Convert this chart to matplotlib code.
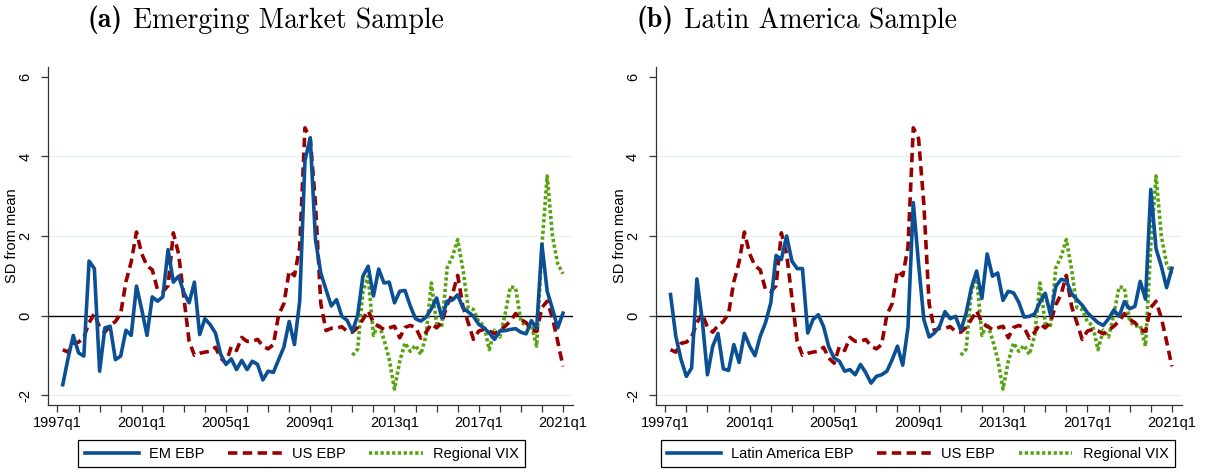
import numpy as np
import matplotlib
matplotlib.use('Agg')
import matplotlib.pyplot as plt

plt.rcParams['font.family'] = ['Liberation Sans', 'DejaVu Sans']

# quarterly series, 1997q2 .. 2021q1 (standardised, SD from mean)
em_ebp = [-1.74, -1.08, -0.50, -0.94, -1.02, 1.37, 1.18, -1.40, -0.31, -0.27,
          -1.11, -1.02, -0.37, -0.50, 0.74, 0.15, -0.50, 0.47, 0.36, 0.47,
          1.66, 0.84, 0.99, 0.57, 0.32, 0.84, -0.48, -0.08, -0.23, -0.44,
          -0.98, -1.23, -1.09, -1.36, -1.13, -1.36, -1.15, -1.23, -1.62, -1.40,
          -1.43, -1.11, -0.79, -0.15, -0.73, 0.36, 3.90, 4.47, 1.90, 1.07,
          0.65, 0.24, 0.40, -0.02, -0.12, -0.40, 0.00, 0.99, 1.24, 0.49,
          1.17, 0.82, 0.84, 0.32, 0.61, 0.63, 0.24, -0.08, -0.14, -0.04,
          0.17, 0.44, -0.06, 0.36, 0.39, 0.52, 0.19, 0.09, -0.02, -0.22,
          -0.31, -0.44, -0.60, -0.39, -0.38, -0.35, -0.33, -0.42, -0.46, -0.13,
          -0.33, 1.79, 0.61, 0.17, -0.31, 0.06]
la_ebp = [0.53, -0.52, -1.11, -1.53, -1.32, 0.92, -0.10, -1.49, -0.77, -0.45,
          -1.34, -1.38, -0.73, -1.18, -0.45, -0.77, -1.01, -0.52, -0.18, 0.32,
          1.51, 1.41, 2.00, 1.37, 1.18, 1.18, -0.44, -0.10, 0.02, -0.28,
          -0.79, -1.07, -1.15, -1.40, -1.36, -1.49, -1.23, -1.44, -1.70, -1.53,
          -1.49, -1.40, -1.11, -0.77, -1.25, -0.29, 2.84, 1.30, -0.10, -0.54,
          -0.44, -0.27, 0.10, -0.08, -0.02, -0.37, 0.05, 0.70, 1.12, 0.43,
          1.55, 0.99, 1.07, 0.38, 0.61, 0.57, 0.33, -0.04, -0.02, 0.04,
          0.34, 0.56, 0.02, 0.73, 0.91, 0.88, 0.55, 0.40, 0.26, 0.07,
          -0.06, -0.18, -0.25, -0.08, 0.14, -0.02, 0.35, 0.17, 0.23, 0.86,
          0.41, 3.17, 1.68, 1.24, 0.70, 1.19]
us_ebp = [-0.86, -0.92, -0.70, -0.67, -0.55, -0.18, 0.05, -0.30, -0.42, -0.25,
          -0.15, 0.05, 0.85, 1.35, 2.10, 1.55, 1.25, 1.15, 0.65, 0.60,
          0.75, 2.08, 1.55, 0.45, -0.65, -1.00, -0.95, -0.92, -0.90, -0.80,
          -1.07, -1.20, -0.78, -0.88, -0.55, -0.65, -0.65, -0.60, -0.77, -0.84,
          -0.73, 0.02, 0.30, 1.12, 1.00, 1.72, 4.72, 4.45, 2.80, 0.30,
          -0.38, -0.32, -0.32, -0.28, -0.40, -0.42, -0.30, -0.10, 0.12, -0.18,
          -0.27, -0.35, -0.31, -0.27, -0.56, -0.30, -0.25, -0.30, -0.57, -0.42,
          -0.21, -0.31, -0.17, 0.27, 0.53, 1.01, 0.23, -0.18, -0.60, -0.39,
          -0.35, -0.39, -0.46, -0.37, -0.27, -0.14, 0.05, -0.10, -0.18, -0.35,
          -0.40, 0.20, 0.36, -0.06, -0.65, -1.28]
# regional VIX only from 2011q1
vix = [-1.00, -0.85, 0.60, 0.99, -0.50, -0.20, -0.60, -1.10, -1.85, -1.15,
       -0.69, -0.90, -0.75, -0.98, -0.50, 0.82, -0.20, -0.25, 1.20, 1.48,
       1.91, 1.16, 0.20, 0.15, -0.16, -0.25, -0.86, -0.37, -0.54, 0.03,
       0.72, 0.70, -0.14, -0.27, -0.25, -0.77, 1.75, 3.51, 2.00, 1.30, 1.05]

START_YEAR = 1997
ebp_start = (1997, 2)
vix_start = (2011, 1)
tick_labels = ['1997q1', '2001q1', '2005q1', '2009q1', '2013q1', '2017q1', '2021q1']

BLUE = '#0b4f95'
RED = '#980000'
GREEN = '#58a310'
GRID = '#e9f0f1'


def qidx(year, q):
    return (year - START_YEAR) * 4 + (q - 1)


def qaxis(start, n):
    s = qidx(*start)
    return np.arange(s, s + n)


def drawPanel(fig, rect, ebp, ebpLabel, tag, title, titleX, legX):
    ax = fig.add_axes(rect)
    for g in (-2, 2, 4):
        ax.axhline(g, color=GRID, lw=1.0, zorder=0)
    ax.axhline(0, color='black', lw=1.0, zorder=1)

    ax.plot(qaxis(ebp_start, len(ebp)), ebp, color=BLUE, lw=2.6,
            solid_joinstyle='round', label=ebpLabel, zorder=4)
    ax.plot(qaxis(ebp_start, len(us_ebp)), us_ebp, color=RED, lw=2.6,
            dashes=(2.6, 1.5), label='US EBP', zorder=3)
    ax.plot(qaxis(vix_start, len(vix)), vix, color=GREEN, lw=2.6,
            dashes=(0.9, 0.7), label='Regional VIX', zorder=2)

    ax.set_xlim(-1.75, 97.85)
    ax.set_ylim(-2.25, 6.25)
    pos = [qidx(int(t[:4]), int(t[-1])) for t in tick_labels]
    ax.set_xticks(pos)
    ax.set_xticklabels(tick_labels, fontsize=10.5)
    ax.set_xticks(np.arange(0, 97, 4), minor=True)
    ax.set_yticks([-2, 0, 2, 4, 6])
    ax.set_yticklabels(['-2', '0', '2', '4', '6'], fontsize=10.5, rotation=90,
                       va='center')
    ax.tick_params(axis='both', which='both', length=5, width=0.9, color='#333333')
    ax.tick_params(axis='x', pad=3)
    ax.tick_params(axis='y', pad=6.5)
    for s in ('top', 'right'):
        ax.spines[s].set_visible(False)
    for s in ('left', 'bottom'):
        ax.spines[s].set_linewidth(0.9)
        ax.spines[s].set_color('#333333')
    ax.set_ylabel('SD from mean', fontsize=10.5)
    ax.yaxis.set_label_coords(-0.056, 0.5)

    # caption: bold tag followed by the roman title on the same baseline
    tagText = fig.text(titleX, 0.942, tag, ha='left', va='baseline',
                       fontsize=20, family='cmb10')
    ax.annotate(title, xy=(1, 0), xycoords=tagText, xytext=(7.5, 0),
                textcoords='offset points', ha='left', va='bottom',
                fontsize=20, family='cmr10', annotation_clip=False)

    ax.legend(loc='center', bbox_to_anchor=(legX, 0.043), bbox_transform=fig.transFigure,
              ncol=3, fontsize=10.5, frameon=True, fancybox=False, edgecolor='black',
              framealpha=1, handlelength=3.7, handletextpad=0.7, columnspacing=1.6,
              borderpad=0.45, borderaxespad=0)
    ax.get_legend().get_frame().set_linewidth(0.9)
    return ax


fig = plt.figure(figsize=(12.07, 4.74), dpi=100)
drawPanel(fig, [0.0400, 0.1456, 0.4345, 0.7130], em_ebp, 'EM EBP',
          '(a)', 'Emerging Market Sample', 0.0729, 0.2500)
drawPanel(fig, [0.5435, 0.1456, 0.4355, 0.7130], la_ebp, 'Latin America EBP',
          '(b)', 'Latin America Sample', 0.5270, 0.7605)
fig.savefig('out.png', dpi=100)
